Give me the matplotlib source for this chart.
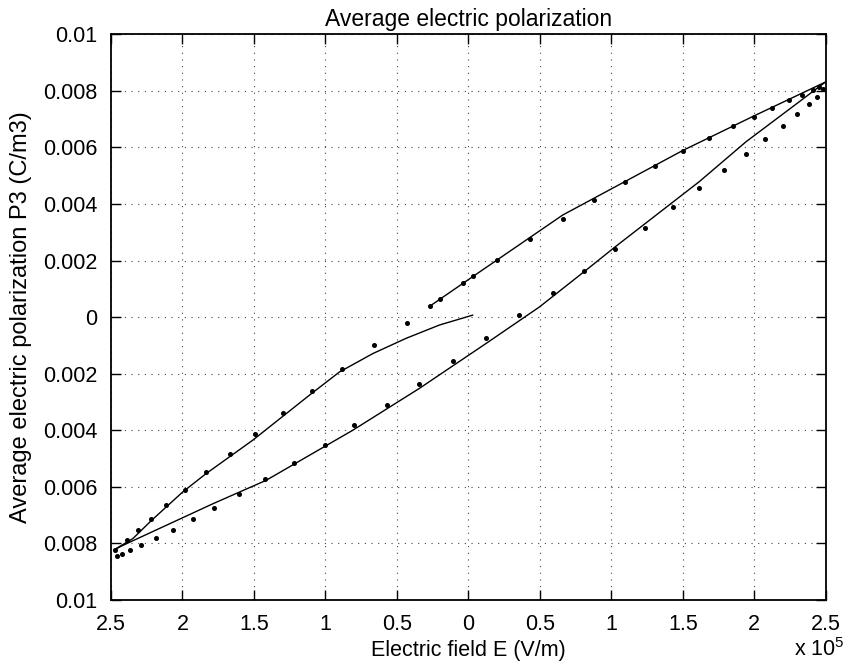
import matplotlib
matplotlib.use('Agg')
import matplotlib.pyplot as plt
import numpy as np

plt.rcParams['font.family'] = ['Liberation Sans', 'DejaVu Sans']
plt.rcParams['mathtext.fontset'] = 'custom'
plt.rcParams['mathtext.rm'] = 'Liberation Sans'

# electric field in units of 1e5 V/m, polarization in C/m3
SCALE = 1e5

# simulated hysteresis (solid lines)
sim_down_x = [2.497, 1.942, 1.615, 1.028, 0.823, 0.497, 0.124, -0.343, -0.809,
              -1.415, -1.788, -2.417, -2.476]
sim_down_y = [0.00831, 0.0062, 0.00479, 0.00249, 0.00166, 0.00036, -0.00093,
              -0.00252, -0.0040, -0.00577, -0.00660, -0.00807, -0.00822]

sim_up_left_x = [-2.476, -2.347, -2.217, -1.998, -1.834, -1.508, -1.112, -0.902,
                 -0.669, -0.436, -0.203, 0.030]
sim_up_left_y = [-0.00822, -0.00783, -0.00719, -0.00618, -0.00553, -0.00435,
                 -0.00276, -0.00194, -0.00129, -0.00075, -0.00028, 0.00007]

sim_up_right_x = [-0.266, 0.030, 0.660, 1.499, 1.988, 2.497]
sim_up_right_y = [0.0004, 0.00143, 0.00361, 0.00589, 0.00709, 0.00831]

# measured points (dots)
meas_up_left_x = [-2.471, -2.387, -2.312, -2.217, -2.112, -1.981, -1.832, -1.667,
                  -1.490, -1.298, -1.096, -0.881, -0.662, -0.431]
meas_up_left_y = [-0.00822, -0.00787, -0.00754, -0.00714, -0.00665, -0.00610,
                  -0.00549, -0.00483, -0.00413, -0.00339, -0.00261, -0.00182,
                  -0.00100, -0.00020]

meas_up_right_x = [-0.268, -0.198, -0.035, 0.035, 0.198, 0.431, 0.660, 0.881,
                   1.098, 1.305, 1.499, 1.680, 1.848, 1.995, 2.126, 2.240, 2.333,
                   2.408, 2.455]
meas_up_right_y = [0.00040, 0.00065, 0.00121, 0.00145, 0.00202, 0.00275, 0.00346,
                   0.00414, 0.00477, 0.00536, 0.00588, 0.00633, 0.00674, 0.00709,
                   0.00740, 0.00766, 0.00786, 0.00804, 0.00813]

meas_down_x = [2.483, 2.436, 2.380, 2.296, 2.198, 2.077, 1.942, 1.786, 1.615, 1.434,
               1.238, 1.028, 0.811, 0.590, 0.357, 0.124, -0.110, -0.345, -0.571,
               -0.799, -1.005, -1.219, -1.420, -1.601, -1.776, -1.928, -2.065,
               -2.187, -2.287, -2.364, -2.424, -2.459]
meas_down_y = [0.00807, 0.00778, 0.00752, 0.00717, 0.00677, 0.00631, 0.00578,
               0.00519, 0.00455, 0.00388, 0.00316, 0.00242, 0.00164, 0.00086,
               0.00006, -0.00075, -0.00156, -0.00235, -0.00312, -0.00383, -0.00452,
               -0.00514, -0.00572, -0.00627, -0.00674, -0.00715, -0.00752, -0.00781,
               -0.00807, -0.00825, -0.00837, -0.00843]

x_ticks = [-2.5, -2, -1.5, -1, -0.5, 0, 0.5, 1, 1.5, 2, 2.5]
x_tick_labels = ['2.5', '2', '1.5', '1', '0.5', '0', '0.5', '1', '1.5', '2', '2.5']
y_ticks = [-0.01, -0.008, -0.006, -0.004, -0.002, 0, 0.002, 0.004, 0.006, 0.008, 0.01]
y_tick_labels = ['0.01', '0.008', '0.006', '0.004', '0.002', '0',
                 '0.002', '0.004', '0.006', '0.008', '0.01']

fig = plt.figure(figsize=(8.47, 6.64), dpi=100)
ax = fig.add_axes([0.131, 0.0964, 0.844, 0.852])

for xs, ys in [(sim_down_x, sim_down_y), (sim_up_left_x, sim_up_left_y),
               (sim_up_right_x, sim_up_right_y)]:
    ax.plot(np.array(xs) * SCALE, ys, color='black', lw=1.0)

for xs, ys in [(meas_up_left_x, meas_up_left_y), (meas_up_right_x, meas_up_right_y),
               (meas_down_x, meas_down_y)]:
    ax.plot(np.array(xs) * SCALE, ys, linestyle='None', marker='o',
            markersize=2.6, color='black')

ax.set_xlim(-2.5 * SCALE, 2.5 * SCALE)
ax.set_ylim(-0.01, 0.01)
ax.set_xticks(np.array(x_ticks) * SCALE)
ax.set_xticklabels(x_tick_labels)
ax.set_yticks(y_ticks)
ax.set_yticklabels(y_tick_labels)

ax.tick_params(direction='in', length=7, width=1, top=True, right=True,
               labelsize=15.5, colors='black')
ax.tick_params(axis='x', pad=10)
ax.tick_params(axis='y', pad=10)
ax.grid(True, color='#444444', linestyle=(0, (1, 5)), lw=0.8)
for s in ax.spines.values():
    s.set_linewidth(1.3)

ax.set_title('Average electric polarization', fontsize=16.5, pad=6)
ax.set_xlabel('Electric field E (V/m)', fontsize=15.5, labelpad=4)
ax.set_ylabel('Average electric polarization P3 (C/m3)', fontsize=17, labelpad=8)

fig.text(0.997, 0.004, r'x 10$^5$', fontsize=15.5, ha='right', va='bottom')

fig.savefig('out.png', dpi=100)
